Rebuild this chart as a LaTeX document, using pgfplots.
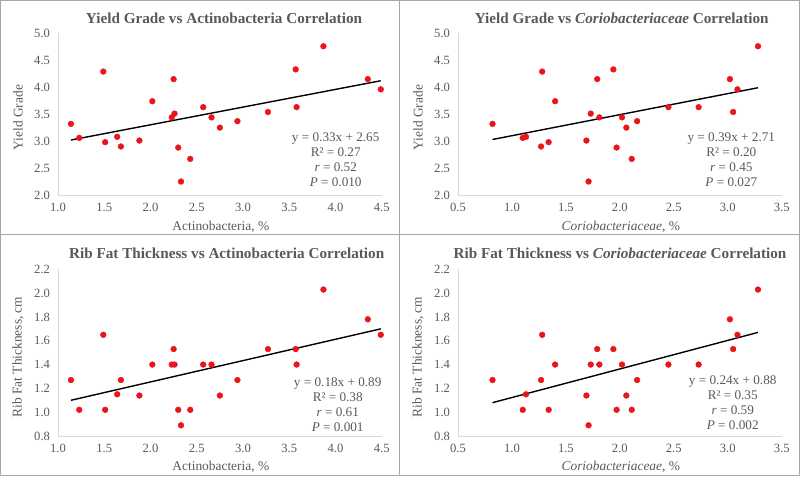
\documentclass[border=0pt]{standalone}
\usepackage{fontspec}
\setmainfont{Liberation Serif}
\usepackage{pgfplots}
\usepackage{pgfplotstable}
\pgfplotsset{compat=1.18}

\definecolor{txt}{HTML}{595959}
\definecolor{dot}{HTML}{E8161C}
\definecolor{frame}{HTML}{A6A6A6}
\definecolor{axline}{HTML}{D9D9D9}

% actinobacteria: x, yield grade, rib fat
\pgfplotstableread{
ax   yg   rf
1.14 3.32 1.27
1.23 3.06 1.02
1.49 4.29 1.65
1.51 2.98 1.02
1.64 3.08 1.15
1.68 2.90 1.27
1.88 3.01 1.14
2.02 3.74 1.40
2.23 3.44 1.40
2.25 4.15 1.53
2.26 3.51 1.40
2.30 2.88 1.02
2.33 2.25 0.89
2.43 2.67 1.02
2.57 3.63 1.40
2.66 3.44 1.40
2.75 3.25 1.14
2.94 3.37 1.27
3.27 3.54 1.53
3.57 4.33 1.53
3.58 3.63 1.40
3.87 4.76 2.03
4.35 4.15 1.78
4.49 3.96 1.65
}\actino

% coriobacteriaceae: x, yield grade, rib fat
\pgfplotstableread{
cx   yg   rf
0.82 3.32 1.27
1.10 3.06 1.02
1.13 3.08 1.15
1.27 2.90 1.27
1.28 4.29 1.65
1.34 2.98 1.02
1.40 3.74 1.40
1.69 3.01 1.14
1.71 2.25 0.89
1.73 3.51 1.40
1.79 4.15 1.53
1.81 3.44 1.40
1.94 4.33 1.53
1.97 2.88 1.02
2.02 3.44 1.40
2.06 3.25 1.14
2.11 2.67 1.02
2.16 3.37 1.27
2.45 3.63 1.40
2.73 3.63 1.40
3.02 4.15 1.78
3.05 3.54 1.53
3.09 3.96 1.65
3.28 4.76 2.03
}\corio

\pgfplotsset{
  panel/.style={
    scale only axis, width=323.7pt, anchor=south west, clip=false,
    axis x line*=bottom, axis y line*=left,
    axis line style={draw=axline, line width=0.8pt},
    major tick length=0pt,
    /pgf/number format/assume math mode=true,
    tick label style={font=\fontsize{12.6}{14}\selectfont, text=txt,
      /pgf/number format/fixed, /pgf/number format/fixed zerofill,
      /pgf/number format/precision=1},
    xticklabel style={yshift=-5pt},
    yticklabel style={xshift=-4.5pt},
  },
  pts/.style={only marks, color=dot, mark=*, mark size=2.9pt,
    mark options={solid, fill=dot, draw=dot}},
  trend/.style={black, line width=1.4pt, no marks},
}

\tikzset{
  ttl/.style={font=\bfseries\fontsize{15.2}{17}\selectfont, text=txt},
  lab/.style={font=\fontsize{13.4}{15}\selectfont, text=txt, anchor=base},
  stat/.style={font=\fontsize{13.2}{15}\selectfont, text=txt, align=center},
}

\begin{document}
\begin{tikzpicture}
\useasboundingbox (0,0) rectangle (800pt,477pt);
\draw[frame, line width=1pt] (0.5pt,2pt) rectangle (799.5pt,476.5pt);
\draw[frame, line width=1pt] (399.5pt,2pt) -- (399.5pt,476.5pt);
\draw[frame, line width=1pt] (0.5pt,242.7pt) -- (799.5pt,242.7pt);

% top left
\begin{axis}[panel, at={(58pt,282pt)}, height=161.7pt,
  xmin=1, xmax=4.5, ymin=2, ymax=5,
  xtick={1,1.5,2,2.5,3,3.5,4,4.5}, ytick={2,2.5,3,3.5,4,4.5,5}]
\addplot[pts] table[x=ax, y=yg] {\actino};
\addplot[trend] coordinates {(1.14,3.02) (4.49,4.12)};
\end{axis}

% top right
\begin{axis}[panel, at={(458pt,282pt)}, height=161.7pt,
  xmin=0.5, xmax=3.5, ymin=2, ymax=5,
  xtick={0.5,1,1.5,2,2.5,3,3.5}, ytick={2,2.5,3,3.5,4,4.5,5}]
\addplot[pts] table[x=cx, y=yg] {\corio};
\addplot[trend] coordinates {(0.82,3.03) (3.28,3.99)};
\end{axis}

% bottom left
\begin{axis}[panel, at={(58pt,41pt)}, height=166.7pt,
  xmin=1, xmax=4.5, ymin=0.8, ymax=2.2,
  xtick={1,1.5,2,2.5,3,3.5,4,4.5}, ytick={0.8,1,1.2,1.4,1.6,1.8,2,2.2}]
\addplot[pts] table[x=ax, y=rf] {\actino};
\addplot[trend] coordinates {(1.14,1.10) (4.49,1.70)};
\end{axis}

% bottom right
\begin{axis}[panel, at={(458pt,41pt)}, height=166.7pt,
  xmin=0.5, xmax=3.5, ymin=0.8, ymax=2.2,
  xtick={0.5,1,1.5,2,2.5,3,3.5}, ytick={0.8,1,1.2,1.4,1.6,1.8,2,2.2}]
\addplot[pts] table[x=cx, y=rf] {\corio};
\addplot[trend] coordinates {(0.82,1.08) (3.28,1.67)};
\end{axis}

% titles
\node[ttl] at (224pt,458.7pt) {Yield Grade vs Actinobacteria Correlation};
\node[ttl] at (621.7pt,458.7pt) {Yield Grade vs \textit{Coriobacteriaceae} Correlation};
\node[ttl] at (226.7pt,223.3pt) {Rib Fat Thickness vs Actinobacteria Correlation};
\node[ttl] at (620pt,223.3pt) {Rib Fat Thickness vs \textit{Coriobacteriaceae} Correlation};

% axis labels
\node[lab] at (220.8pt,246.3pt) {Actinobacteria, \%};
\node[lab] at (620.8pt,246.3pt) {\textit{Coriobacteriaceae}, \%};
\node[lab] at (220.8pt,6.7pt) {Actinobacteria, \%};
\node[lab] at (620.8pt,6.7pt) {\textit{Coriobacteriaceae}, \%};
\node[lab, rotate=90] at (22.7pt,359.5pt) {Yield Grade};
\node[lab, rotate=90] at (422.7pt,359.5pt) {Yield Grade};
\node[lab, rotate=90] at (21.7pt,120pt) {Rib Fat Thickness, cm};
\node[lab, rotate=90] at (421.7pt,120pt) {Rib Fat Thickness, cm};

% regression statistics
\node[stat] at (335.7pt,317.2pt) {y = 0.33x + 2.65\\R² = 0.27\\\textit{r} = 0.52\\\textit{P} = 0.010};
\node[stat] at (731.3pt,317.2pt) {y = 0.39x + 2.71\\R² = 0.20\\\textit{r} = 0.45\\\textit{P} = 0.027};
\node[stat] at (337.7pt,72.2pt) {y = 0.18x + 0.89\\R² = 0.38\\\textit{r} = 0.61\\\textit{P} = 0.001};
\node[stat] at (732.7pt,74.2pt) {y = 0.24x + 0.88\\R² = 0.35\\\textit{r} = 0.59\\\textit{P} = 0.002};
\end{tikzpicture}
\end{document}
